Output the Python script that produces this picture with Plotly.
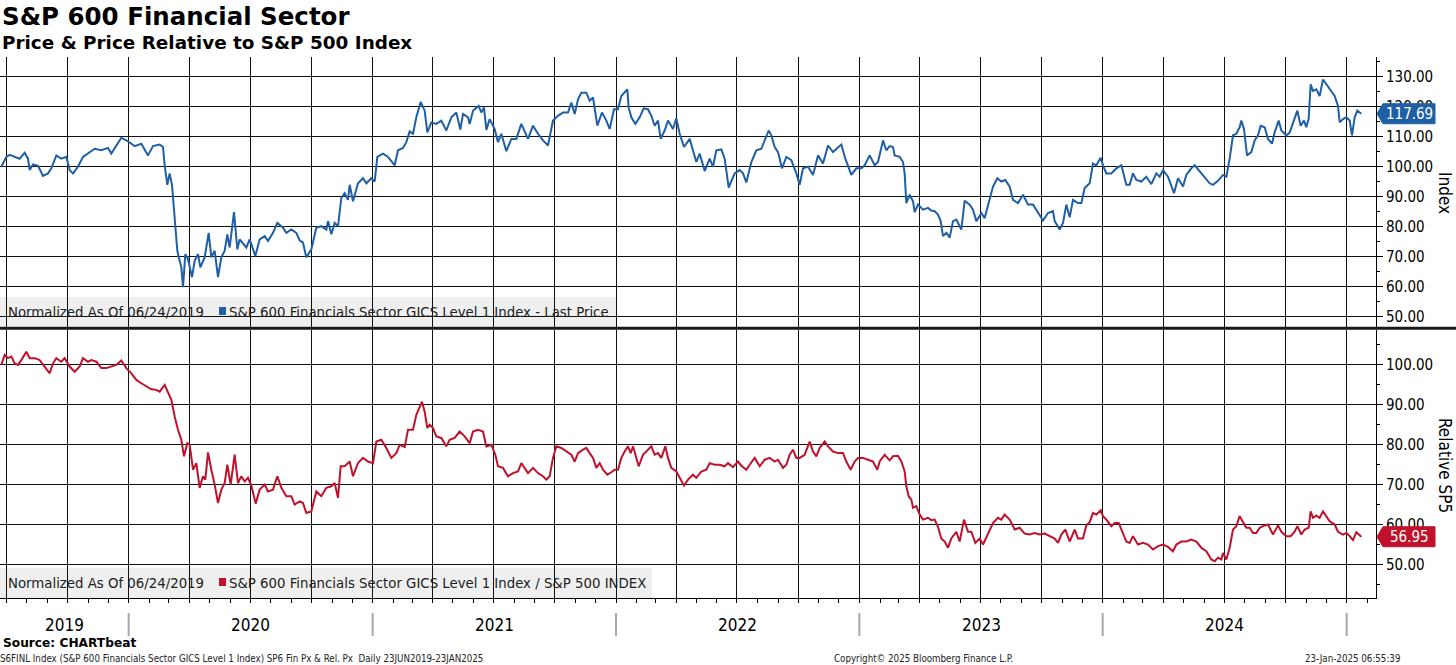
import pandas as pd
import plotly.graph_objects as go

# ---------------- data ----------------
start_date = "2019-06-24"

# S&P 600 Financials, normalized price (days after start, value)
price_day = [0, 7.5, 12.5, 20, 27.5, 35, 40, 42.5, 47.5, 55, 62.5, 70, 75, 82.5, 90, 97.5, 102.5, 107.5, 115, 122.5,
             130, 140, 150, 160, 165, 172.5, 180, 190, 200, 210, 220, 227.5, 237.5, 242.5, 245, 249, 252.5, 256, 260, 264,
             267.5, 270, 272.5, 276, 280, 286, 290, 295, 298.5, 305, 311, 315, 320, 325, 330, 335, 339, 342.5, 349, 354,
             357.5, 367.5, 372.5, 381, 387.5, 395, 400, 407.5, 414, 422.5, 427.5, 435, 442.5, 447.5, 452.5, 457.5, 465, 472.5, 480, 487.5,
             490, 495, 500, 505, 510, 515, 520, 522.5, 527.5, 535, 542.5, 547.5, 555, 560, 564, 572.5, 580,
             590, 595, 602.5, 607.5, 612.5, 617.5, 622.5, 629, 635, 639, 645, 652.5, 660, 667.5, 675, 682.5, 688.5, 692.5, 700,
             702.5, 707.5, 716, 720, 724, 727.5, 732.5, 740, 745, 750, 757.5, 765, 772.5, 780, 790, 797.5, 805, 812.5, 820, 827.5,
             835, 842.5, 850, 855, 860, 865, 870, 877.5, 882.5, 887.5, 894, 901, 907.5, 912.5, 919, 925, 930, 939, 941, 945,
             951, 957.5, 963.5, 970, 975, 980, 985, 989, 995, 1000, 1007.5, 1012.5, 1017.5, 1024, 1032.5, 1037.5, 1042.5, 1047.5, 1055, 1062.5,
             1067.5, 1072.5, 1080, 1085, 1091, 1100, 1107.5, 1112.5, 1117.5, 1125, 1132.5, 1140, 1145, 1151, 1155, 1160, 1165, 1171, 1177.5, 1185,
             1192.5, 1197.5, 1202.5, 1210, 1217.5, 1225, 1232.5, 1240, 1247.5, 1255, 1260, 1266, 1275, 1282.5, 1290, 1295, 1302.5, 1310, 1315,
             1322.5, 1327.5, 1332.5, 1337.5, 1340, 1347.5, 1352.5, 1355, 1357.5, 1362.5, 1367.5, 1370, 1375, 1382.5, 1390, 1395, 1400, 1405, 1409, 1412.5,
             1417.5, 1422.5, 1427.5, 1432.5, 1440, 1442.5, 1445, 1452.5, 1457.5, 1462.5, 1470, 1475, 1482.5, 1487.5, 1494, 1500, 1506, 1512.5, 1517.5, 1525,
             1532.5, 1540, 1547.5, 1555, 1562.5, 1570, 1577.5, 1580, 1587.5, 1592.5, 1597.5, 1602.5, 1607.5, 1615, 1620, 1625, 1632.5, 1637.5, 1642.5, 1649,
             1652.5, 1657.5, 1665, 1672.5, 1680, 1687.5, 1692.5, 1697.5, 1702.5, 1710, 1717.5, 1725, 1732.5, 1737.5, 1742.5, 1750, 1755, 1759, 1765, 1772.5,
             1777.5, 1785, 1790, 1797.5, 1805, 1812.5, 1817.5, 1825, 1832.5, 1837.5, 1842.5, 1847.5, 1852.5, 1857.5, 1860, 1864, 1868.5, 1875, 1880, 1885,
             1889, 1895, 1900, 1906, 1910, 1916, 1920, 1927.5, 1932.5, 1937.5, 1944, 1949, 1954, 1957.5, 1961, 1964, 1967.5, 1972.5, 1977.5, 1982.5,
             1987.5, 1994, 2000, 2005, 2007.5, 2012.5, 2017.5, 2022.5, 2026, 2030, 2034, 2040]
price_val = [100, 103.3, 104, 103.3, 102.7, 104.7, 102.7, 98.9, 100.8, 100.3, 97, 97.8, 99.5, 103.8, 102.7, 103.3, 98.9, 97.8, 100, 103.3,
             104.4, 106, 105.5, 106.3, 104.4, 106.9, 109.7, 108.5, 106.9, 107.7, 103.8, 106.9, 107.4, 106.6, 100.5, 94, 97.8, 94, 81.9, 72,
             68.7, 66.5, 59.9, 70.9, 69.2, 63.2, 68.7, 70.9, 66.5, 69.8, 78, 69.8, 72, 63.2, 69.8, 72, 77.5, 73.1, 84.9, 72.5,
             75.8, 73.1, 75.8, 70.3, 75.8, 76.9, 75.3, 78, 81.3, 79.7, 78, 79.1, 78, 75.5, 74.7, 69.8, 72.5, 79.7, 80.2, 79.1,
             81.9, 77.5, 81.3, 80.2, 89.6, 91.2, 89, 94, 88.5, 94.5, 96.2, 94.5, 96.2, 95.1, 103.3, 104.4, 103.3,
             100.5, 105.5, 106.3, 108.2, 111.8, 111, 116.5, 121.6, 118.7, 111.5, 114.8, 114.3, 115.4, 112.1, 116.5, 118.1, 112.4, 117.6, 116.5,
             114.3, 118.7, 120.3, 118.1, 119.8, 112.3, 115.9, 112.6, 108.2, 111, 105.2, 109.3, 109.3, 114.3, 109.3, 113.7, 111, 108.8, 107.1, 115.4,
             117, 118.1, 118.1, 121.4, 117.6, 122.5, 124.7, 124.7, 122, 123.1, 113.7, 118.1, 115.4, 112.6, 119.2, 119.2, 123.6, 125.8, 119.8, 116.5,
             114.3, 116.5, 119.5, 119.2, 117, 113.7, 115.4, 109.3, 112.1, 115.4, 112.6, 116.2, 111, 106.6, 109.3, 105.5, 101.6, 104.4, 98.6, 102.7,
             100, 105.5, 105.8, 102.7, 93.1, 97.8, 98.9, 97.8, 94.8, 101.6, 105.5, 106, 108.8, 112.1, 110.5, 106.6, 104.9, 99.5, 103.3, 102.2,
             97.8, 94, 99.5, 100, 97.3, 103.8, 101.1, 107.1, 104.9, 106.6, 107.4, 102.7, 97.3, 99.5, 99.5, 100.5, 103.8, 100.5, 101.6,
             108.8, 105.5, 106.9, 106.6, 103.8, 103.3, 101.6, 97.8, 87.9, 90.7, 88.5, 84.9, 87.4, 85.7, 86.3, 85.4, 85.2, 84.1, 81.9, 76.9,
             78, 76.4, 81.9, 82.4, 79.1, 84.6, 88.7, 87.4, 85.7, 81.9, 84.6, 82.9, 89, 93.4, 96.2, 95.1, 95.6, 93.4, 89, 87.9,
             90.7, 87.4, 87.4, 84.6, 82.1, 84.6, 85.2, 81.9, 79.1, 81.3, 87.4, 83.2, 89, 87.9, 87.9, 92.9, 94.5, 101.1, 100.5, 103,
             100.5, 97.8, 97.8, 99.5, 100.5, 94, 94, 97.8, 95.6, 95.1, 96.7, 94.2, 97.8, 96.7, 98.9, 96.7, 93.4, 91.2, 96.2, 93.4,
             97.3, 99.5, 100.5, 98.4, 96.2, 94.5, 94, 95.3, 97.3, 96.7, 102.7, 110.5, 111, 113.2, 115.4, 112.6, 103.8, 104.9, 108.8, 110.5,
             113.7, 113.2, 109.3, 107.7, 111.5, 115.4, 112.1, 110.5, 111.4, 114.3, 118.7, 113.7, 115.4, 113.2, 116, 127.5, 125.3, 125.8, 123.6, 129.1,
             127.5, 125.3, 123.6, 120.3, 114.8, 115.9, 116.5, 115.4, 110.5, 116.5, 118.7, 117.69]

# Price relative to S&P 500, normalized (days after start, value)
rel_day = [0, 5, 10, 15, 20, 25, 30, 37.5, 42.5, 50, 57.5, 65, 72.5, 77.5, 82.5, 90, 95, 102.5, 110, 117.5,
           122.5, 130, 135, 142.5, 150, 157.5, 165, 172.5, 180, 187.5, 195, 202.5, 210, 217.5, 225, 232.5, 237.5, 245, 250, 255,
           260, 265, 270, 274, 279, 282.5, 287.5, 292.5, 297.5, 302.5, 306, 310, 315, 320, 325, 330, 335, 339, 344, 350,
           355, 360, 365, 370, 375, 381.5, 387.5, 395, 400, 407.5, 414, 420, 427.5, 435, 440, 447.5, 452.5, 457.5, 465, 472.5,
           480, 487.5, 495, 500, 505, 509, 515, 522.5, 527.5, 535, 542.5, 550, 557.5, 562.5, 570, 577.5, 585,
           592.5, 597.5, 605, 610, 617.5, 622.5, 627.5, 631, 635, 639, 642.5, 647.5, 652.5, 660, 667.5, 672.5, 680, 687.5, 695, 702.5,
           707.5, 715, 722.5, 727.5, 735, 741, 745, 752.5, 760, 767.5, 775, 780, 790, 797.5, 805, 812.5, 817.5, 822.5, 827.5, 832.5,
           840, 847.5, 855, 860, 865, 872.5, 877.5, 882.5, 887.5, 892.5, 897.5, 902.5, 909, 915, 920, 925, 930, 935, 940, 944,
           947.5, 952.5, 956, 962.5, 967.5, 975, 980, 985, 990, 996, 1000, 1005, 1012.5, 1017.5, 1024, 1030, 1037.5, 1042.5, 1050, 1057.5,
           1062.5, 1070, 1077.5, 1085, 1090, 1097.5, 1105, 1110, 1117.5, 1122.5, 1130, 1137.5, 1145, 1152.5, 1160, 1165, 1172.5, 1177.5, 1182.5, 1187.5,
           1192.5, 1197.5, 1205, 1212.5, 1217.5, 1222.5, 1227.5, 1235, 1240, 1247.5, 1255, 1262.5, 1267.5, 1274, 1280, 1285, 1292.5, 1300, 1307.5, 1314,
           1317.5, 1325, 1332.5, 1337.5, 1345, 1350, 1355, 1357.5, 1361, 1365, 1367.5, 1372.5, 1377.5, 1382.5, 1390, 1395, 1400, 1405, 1410, 1415,
           1420, 1425, 1432.5, 1437.5, 1444, 1450, 1455, 1461, 1467.5, 1472.5, 1480, 1487.5, 1495, 1500, 1505, 1512.5, 1520, 1527.5, 1535, 1542.5,
           1550, 1557.5, 1565, 1572.5, 1580, 1585, 1590, 1596, 1602.5, 1610, 1615, 1622.5, 1627.5, 1632.5, 1637.5, 1642.5, 1649, 1652.5, 1657.5, 1665,
           1670, 1676, 1682.5, 1687.5, 1692.5, 1697.5, 1705, 1712.5, 1720, 1727.5, 1735, 1742.5, 1750, 1757.5, 1762.5, 1770, 1777.5, 1785, 1792.5, 1800,
           1807.5, 1815, 1820, 1825, 1830, 1832.5, 1837.5, 1842.5, 1847.5, 1852.5, 1857.5, 1862.5, 1867.5, 1872.5, 1877.5, 1882.5, 1887.5, 1892.5, 1900, 1907.5,
           1915, 1920, 1927.5, 1934, 1940, 1944, 1950, 1955, 1961, 1964, 1967.5, 1972.5, 1977.5, 1982.5, 1987.5, 1992.5, 2000, 2005, 2012.5, 2017.5,
           2022.5, 2027.5, 2032.5, 2040]
rel_val = [100, 102.5, 101.7, 102.1, 100.4, 100, 101.2, 103.3, 101.7, 101.7, 101.2, 99.6, 97.9, 100.4, 101.7, 100.8, 101.7, 99.6, 98.3, 99.6,
           101.7, 100.8, 101.2, 100.8, 99.2, 99.2, 99.6, 100, 101.1, 99.2, 97.9, 96.25, 95.4, 94.6, 93.9, 93.75, 93.3, 95, 93.3, 91.25,
           87.1, 83.75, 81.25, 77.1, 80.4, 80, 73.75, 75.4, 69.2, 72.1, 71.25, 78.1, 73.75, 70, 65.4, 68.75, 70.4, 75, 70, 77.5,
           70.4, 72.1, 70.8, 71.7, 69.75, 65.25, 68.75, 70, 68.3, 68.75, 72.1, 69.2, 67.1, 67.1, 65, 65.8, 65.4, 62.9, 63.3, 68.3,
           67.1, 69.2, 69.6, 70.4, 66.7, 74.6, 74.6, 75.8, 72.1, 75.4, 76.7, 75.8, 75.4, 80.8, 81.25, 79.2, 76.7,
           77.9, 80, 79.4, 83.75, 83.75, 87.5, 89.75, 90.8, 88.3, 84.2, 85, 84.2, 82.1, 81.7, 79.6, 81.25, 81.7, 83.3, 82.1, 80.4,
           83.3, 83.75, 83.3, 79.6, 80, 77.5, 74.6, 74.2, 72.1, 72.9, 73.3, 75.4, 72.9, 74.2, 72.9, 72.1, 71.25, 72.1, 76.7, 79.6,
           79.2, 78.3, 77.5, 75.8, 77.9, 78.75, 79.2, 77.9, 76.7, 74.2, 75.4, 73.75, 72.5, 73.1, 73.75, 73.75, 76.7, 78.3, 79.6, 77.9,
           79.6, 76.7, 74.6, 77.5, 78.3, 79.6, 77.5, 77.9, 76.7, 79.6, 76.7, 74.2, 73.3, 71.7, 69.75, 71.25, 72.5, 71.7, 73.3, 73.75,
           75.4, 75, 75, 74.6, 75.4, 74.4, 75.8, 74.75, 73.75, 75, 76.7, 74.6, 76.25, 76.7, 75.8, 76.25, 74.2, 75, 77.5, 78.75,
           76.7, 76.7, 77.5, 80.8, 78.3, 77.1, 79.2, 80.8, 79.6, 78.3, 77.9, 77.9, 75.8, 73.75, 75.8, 76.7, 76.7, 76.25, 75.8, 73.75,
           75.8, 77.5, 76.1, 77.1, 77.25, 75.8, 73.3, 69.6, 67.1, 66.25, 64.2, 64.6, 62.5, 61.25, 61.7, 61.1, 61.25, 59.4, 56.5, 55.75,
           54.2, 56.5, 58.2, 55.75, 61.25, 58.2, 58.2, 55.4, 56.5, 55, 57.5, 60.4, 61.7, 61.25, 62.5, 61.25, 58.75, 59.2, 57.75, 57.5,
           57.9, 57.5, 57.75, 57.1, 56.5, 55.4, 57.5, 58.75, 55.75, 58.75, 56.5, 56.5, 59.8, 60.6, 62.9, 62.5, 63.6, 62.1, 61.25, 59.6,
           60.4, 60.4, 57.9, 55.75, 55.4, 57.1, 55, 55.4, 55, 53.75, 54.6, 55, 54.4, 53.3, 55, 55.75, 55.75, 56.25, 55.75, 54.2,
           53.3, 51.25, 50.8, 51.7, 51.25, 52.9, 51.25, 54.2, 58.75, 59.6, 62.1, 60.8, 59.2, 59.2, 57.9, 57.9, 59.2, 59.6, 60, 57.5,
           59.8, 58.2, 57.1, 57.1, 58.2, 59.6, 57.5, 58.75, 59.2, 63.3, 61.7, 62.25, 61.7, 63.3, 62.1, 60.8, 60, 58.2, 57.5, 57.9,
           57.1, 56.1, 58.1, 56.95]

years = ["2019", "2020", "2021", "2022", "2023", "2024"]
price_ticks = [50, 60, 70, 80, 90, 100, 110, 120, 130]
rel_ticks = [50, 60, 70, 80, 90, 100]

title = "S&P 600 Financial Sector"
subtitle = "Price & Price Relative to S&P 500 Index"
norm_text = "Normalized As Of 06/24/2019"
price_name = "S&P 600 Financials Sector GICS Level 1 Index - Last Price"
rel_name = "S&P 600 Financials Sector GICS Level 1 Index / S&P 500 INDEX"

# ---------------- styling / layout ----------------
W, H = 1456, 665
ML, MR, MT, MB = 0, 80, 57, 67
PW = W - ML - MR
PH = H - MT - MB
BLUE = "#1f5fa5"
RED = "#c0122c"
FONT = "DejaVu Sans Condensed, DejaVu Sans, sans-serif"
BOLD = "DejaVu Sans, Verdana, sans-serif"

def px_x(px):
    return (px - ML) / PW

def px_y(py):
    return (H - MB - py) / PH

top_dom = [px_y(326.7), 1.0]
bot_dom = [0.0, px_y(330)]
top_rng = [46.7, 136.6]
bot_rng = [41.6, 108.75]
x_rng = ["2019-06-22", "2025-02-14"]

t0 = pd.Timestamp(start_date)
price_x = [t0 + pd.Timedelta(days=d) for d in price_day]
rel_x = [t0 + pd.Timedelta(days=d) for d in rel_day]

fig = go.Figure()
fig.add_trace(go.Scatter(x=price_x, y=price_val, mode="lines", xaxis="x", yaxis="y",
                         line=dict(color=BLUE, width=2), name=price_name))
fig.add_trace(go.Scatter(x=rel_x, y=rel_val, mode="lines", xaxis="x2", yaxis="y2",
                         line=dict(color=RED, width=2), name=rel_name))

grid = dict(showgrid=True, gridcolor="#111111", gridwidth=1, zeroline=False)
xcommon = dict(type="date", range=x_rng, dtick="M3", tick0="2019-01-01", showticklabels=False, **grid)
ycommon = dict(side="right", tickformat=".2f", ticks="outside", ticklen=6, tickcolor="black",
               showline=True, linecolor="black", linewidth=1,
               tickfont=dict(family=FONT, size=15, color="black"),
               minor=dict(dtick=5, ticks="outside", ticklen=3, tickcolor="black", showgrid=False), **grid)

fig.update_layout(
    width=W, height=H, margin=dict(l=ML, r=MR, t=MT, b=MB),
    paper_bgcolor="white", plot_bgcolor="white", showlegend=False,
    xaxis=dict(domain=[0, 1], anchor="y", matches="x2", ticks="", **xcommon),
    xaxis2=dict(domain=[0, 1], anchor="y2", ticks="outside", ticklen=4, tickcolor="black",
                showline=True, linecolor="black", linewidth=1,
                minor=dict(dtick="M1", tick0="2019-01-01", ticks="outside", ticklen=4, tickcolor="black", showgrid=False),
                **xcommon),
    yaxis=dict(domain=top_dom, anchor="x", range=top_rng, tickvals=price_ticks, **ycommon),
    yaxis2=dict(domain=bot_dom, anchor="x2", range=bot_rng, tickvals=rel_ticks, **ycommon),
)

shapes = []
ann = []

# legend boxes
shapes.append(dict(type="rect", xref="paper", yref="paper", x0=px_x(0), x1=px_x(617), y0=px_y(326), y1=px_y(297),
                   fillcolor="#efefef", line=dict(width=0), layer="below"))
shapes.append(dict(type="rect", xref="paper", yref="paper", x0=px_x(0), x1=px_x(652), y0=px_y(598), y1=px_y(568),
                   fillcolor="#efefef", line=dict(width=0), layer="below"))
for ycen, col, name in [(311, BLUE, price_name), (582, RED, rel_name)]:
    shapes.append(dict(type="rect", xref="paper", yref="paper", x0=px_x(219), x1=px_x(226),
                       y0=px_y(ycen + 4), y1=px_y(ycen - 4), fillcolor=col, line=dict(width=0)))
    ann.append(dict(text=norm_text, xref="paper", yref="paper", x=px_x(6), y=px_y(ycen), xanchor="left",
                    yanchor="middle", showarrow=False, font=dict(family=FONT, size=14.8, color="#222222")))
    ann.append(dict(text=name, xref="paper", yref="paper", x=px_x(227), y=px_y(ycen), xanchor="left",
                    yanchor="middle", showarrow=False, font=dict(family=FONT, size=14.8, color="#222222")))

# thick separator between panels
shapes.append(dict(type="line", xref="paper", yref="paper", x0=px_x(0), x1=px_x(W), y0=px_y(328.3), y1=px_y(328.3),
                   line=dict(color="#1a1a1a", width=3)))

# last value flags
def val_to_paper(v, dom, rng):
    return dom[0] + (v - rng[0]) / (rng[1] - rng[0]) * (dom[1] - dom[0])

for v, dom, rng, col in [(price_val[-1], top_dom, top_rng, BLUE), (rel_val[-1], bot_dom, bot_rng, RED)]:
    yp = val_to_paper(v, dom, rng)
    shapes.append(dict(type="path", xref="paper", yref="paper", xsizemode="pixel", ysizemode="pixel",
                       xanchor=1.0, yanchor=yp, path="M 1 0 L 7 10 L 59 10 L 59 -10 L 7 -10 Z",
                       fillcolor=col, line=dict(color=col, width=1), layer="above"))
    ann.append(dict(text=f"{v:.2f}", xref="paper", yref="paper", x=1.0, xshift=33, y=yp, xanchor="center",
                    yanchor="middle", showarrow=False, font=dict(family=FONT, size=15, color="white")))

# axis titles (rotated to read downward)
ann.append(dict(text="Index", xref="paper", yref="paper", x=px_x(1445), y=px_y(193), textangle=90,
                xanchor="center", yanchor="middle",
                showarrow=False, font=dict(family=FONT, size=17, color="black")))
ann.append(dict(text="Relative SP5", xref="paper", yref="paper", x=px_x(1445), y=px_y(465), textangle=90,
                xanchor="center", yanchor="middle",
                showarrow=False, font=dict(family=FONT, size=17, color="black")))

# year labels and separators on the bottom axis
rs = pd.Timestamp(x_rng[0])
for i, yr in enumerate(years):
    y0 = pd.Timestamp(f"{yr}-01-01")
    y1 = pd.Timestamp(f"{int(yr) + 1}-01-01")
    lo = max(y0, rs)
    mid = lo + (y1 - lo) / 2
    ann.append(dict(text=yr, xref="x2", yref="paper", x=mid, y=px_y(625), showarrow=False,
                    xanchor="center", yanchor="middle", font=dict(family=FONT, size=17, color="black")))
    shapes.append(dict(type="line", xref="x2", yref="paper", x0=y1, x1=y1, y0=px_y(613), y1=px_y(636),
                       line=dict(color="#a8a8a8", width=2)))

# titles and footer
ann.append(dict(text=title, xref="paper", yref="paper", x=px_x(0), y=px_y(17), xanchor="left", yanchor="middle",
                showarrow=False, font=dict(family=BOLD, size=24.5, color="black", weight="bold")))
ann.append(dict(text=subtitle, xref="paper", yref="paper", x=px_x(0), y=px_y(43), xanchor="left", yanchor="middle",
                showarrow=False, font=dict(family=BOLD, size=18.4, color="black", weight="bold")))
ann.append(dict(text="Source: CHARTbeat", xref="paper", yref="paper", x=px_x(1), y=px_y(643), xanchor="left",
                yanchor="middle", showarrow=False, font=dict(family=BOLD, size=12.2, color="black", weight="bold")))
ann.append(dict(text="S6FINL Index (S&P 600 Financials Sector GICS Level 1 Index) SP6 Fin Px & Rel. Px  Daily 23JUN2019-23JAN2025",
                xref="paper", yref="paper", x=px_x(-2), y=px_y(658), xanchor="left", yanchor="middle",
                showarrow=False, font=dict(family=FONT, size=9.7, color="#222222")))
ann.append(dict(text="Copyright© 2025 Bloomberg Finance L.P.", xref="paper", yref="paper", x=px_x(923), y=px_y(658),
                xanchor="center", yanchor="middle", showarrow=False, font=dict(family=FONT, size=9.7, color="#222222")))
ann.append(dict(text="23-Jan-2025 06:55:39", xref="paper", yref="paper", x=px_x(1402), y=px_y(658),
                xanchor="right", yanchor="middle", showarrow=False, font=dict(family=FONT, size=9.7, color="#222222")))

fig.update_layout(shapes=shapes, annotations=ann)
fig.write_html("out.html", config={"displayModeBar": False},
               post_script="document.body.style.margin='0';document.body.style.overflow='hidden';")
